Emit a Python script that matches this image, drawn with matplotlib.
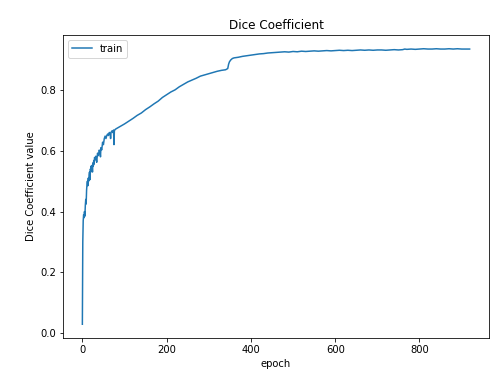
import matplotlib
matplotlib.use("Agg")
import matplotlib.pyplot as plt

# Training Dice coefficient per epoch
epochs = [0, 1, 2, 3, 4, 5, 6, 7, 8, 9, 10, 11, 12, 13, 14, 15, 16, 17, 18, 19,
          20, 21, 22, 23, 24, 25, 26, 27, 28, 29, 30, 32, 34, 36, 38, 40, 42, 43,
          44, 46, 48, 50, 52, 54, 56, 58, 60, 62, 64, 66, 67, 68, 70, 72, 74, 75,
          76, 78, 80, 85, 90, 95, 100, 110, 120, 130, 140, 150, 160, 170, 180,
          190, 200, 210, 220, 230, 240, 250, 260, 270, 280, 290, 300, 310, 320,
          330, 340, 345, 347, 349, 352, 356, 360, 370, 380, 390, 400, 410, 420,
          430, 440, 450, 460, 470, 480, 490, 500, 510, 520, 530, 540, 550, 560,
          570, 580, 590, 600, 610, 620, 630, 640, 650, 660, 670, 680, 690, 700,
          710, 720, 730, 740, 750, 760, 765, 770, 780, 790, 800, 810, 820, 830,
          840, 850, 860, 870, 880, 890, 900, 910, 919]
dice = [0.030, 0.300, 0.370, 0.390, 0.380, 0.400, 0.385, 0.420, 0.440, 0.425,
        0.470, 0.490, 0.500, 0.485, 0.510, 0.500, 0.520, 0.530, 0.505, 0.540,
        0.530, 0.550, 0.540, 0.552, 0.530, 0.560, 0.550, 0.568, 0.556, 0.578,
        0.570, 0.582, 0.562, 0.592, 0.584, 0.602, 0.595, 0.580, 0.610, 0.603,
        0.628, 0.620, 0.640, 0.648, 0.640, 0.650, 0.655, 0.650, 0.660, 0.655,
        0.640, 0.660, 0.665, 0.660, 0.668, 0.620, 0.666, 0.670, 0.672, 0.676,
        0.680, 0.684, 0.688, 0.697, 0.706, 0.716, 0.724, 0.735, 0.744, 0.754,
        0.763, 0.775, 0.784, 0.793, 0.800, 0.810, 0.818, 0.826, 0.832, 0.838,
        0.845, 0.849, 0.853, 0.857, 0.861, 0.864, 0.866, 0.870, 0.884, 0.892,
        0.898, 0.903, 0.905, 0.907, 0.910, 0.912, 0.914, 0.916, 0.918, 0.919,
        0.921, 0.922, 0.923, 0.924, 0.925, 0.924, 0.926, 0.925, 0.927, 0.926,
        0.927, 0.928, 0.927, 0.928, 0.929, 0.928, 0.929, 0.930, 0.929, 0.930,
        0.929, 0.930, 0.931, 0.930, 0.931, 0.930, 0.931, 0.931, 0.930, 0.931,
        0.932, 0.931, 0.932, 0.934, 0.933, 0.934, 0.933, 0.934, 0.935, 0.934,
        0.934, 0.935, 0.934, 0.934, 0.935, 0.934, 0.935, 0.934, 0.934, 0.934]

fig = plt.figure(figsize=(500 / 72, 376 / 72), dpi=72)
ax = fig.add_axes([0.126, 0.101, 0.852, 0.806])
ax.plot(epochs, dice, color="#1f77b4", linewidth=1.5, label="train")
ax.set_title("Dice Coefficient")
ax.set_xlabel("epoch")
ax.set_ylabel("Dice Coefficient value")
ax.set_xticks([0, 200, 400, 600, 800])
ax.set_yticks([0.0, 0.2, 0.4, 0.6, 0.8])
ax.legend(loc="upper left")
fig.savefig("out.png", dpi=72)
